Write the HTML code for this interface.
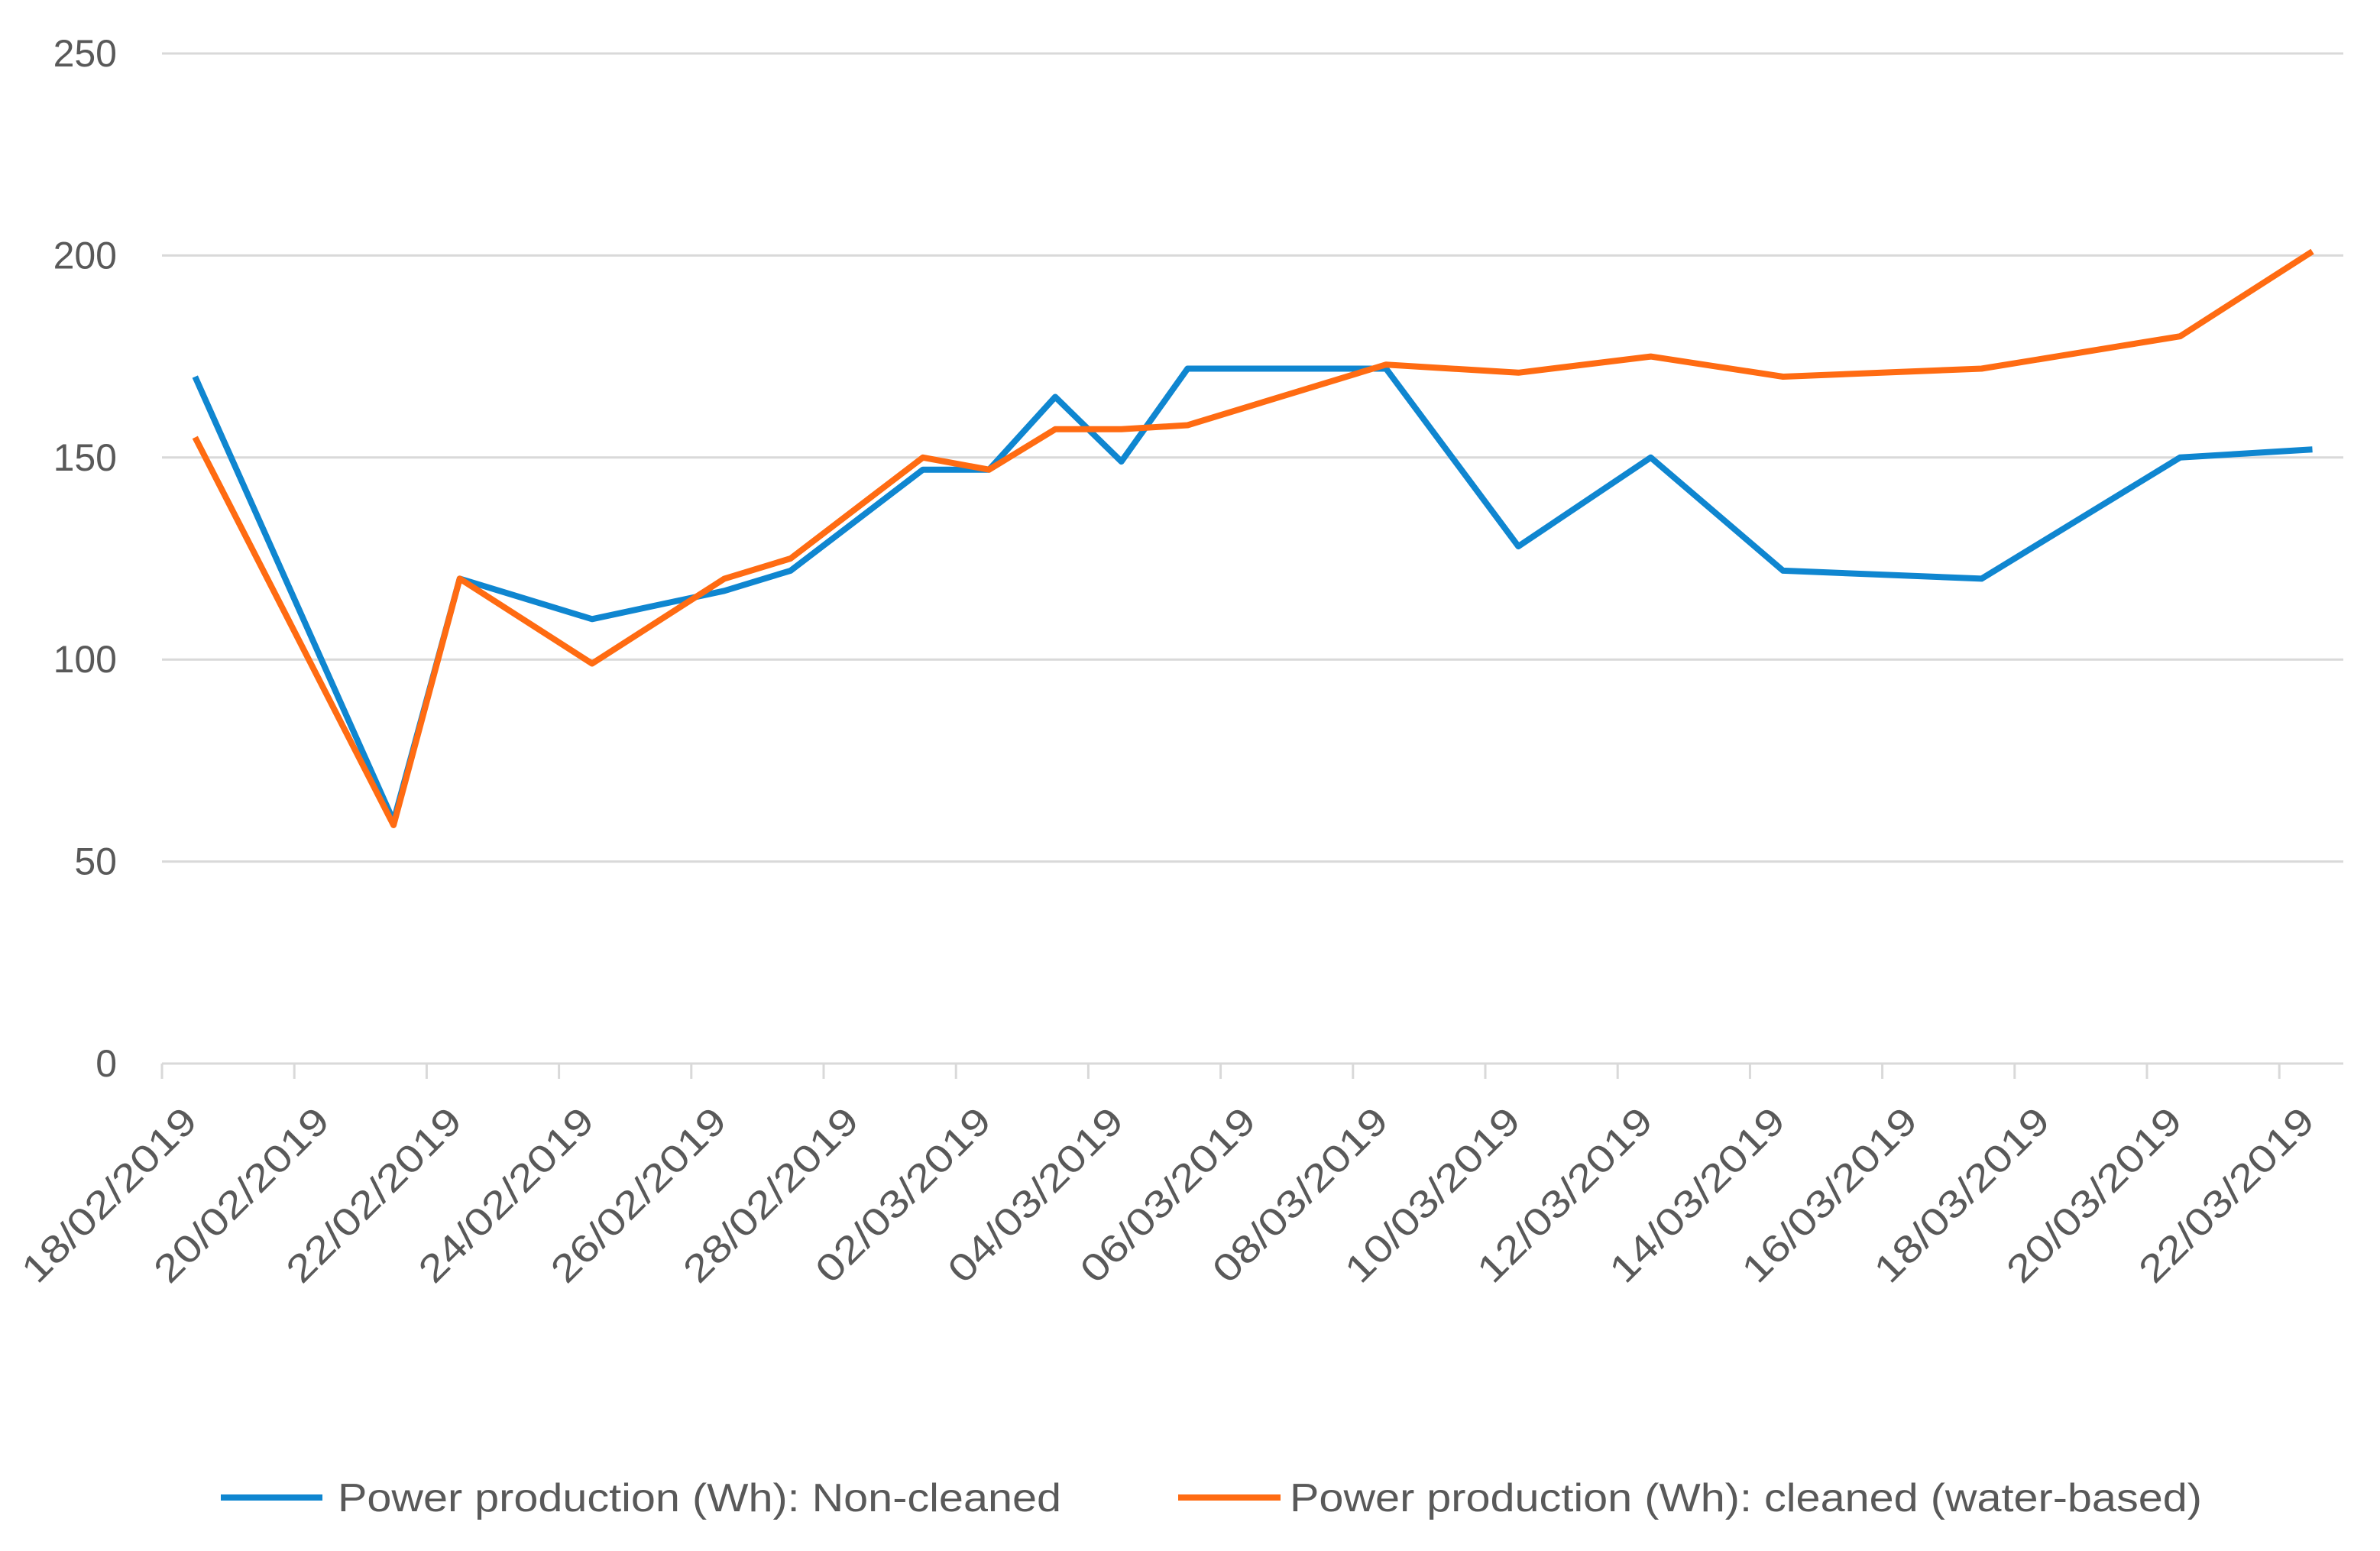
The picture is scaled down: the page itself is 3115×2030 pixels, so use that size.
<!DOCTYPE html>
<html><head><meta charset="utf-8"><style>
html,body{margin:0;padding:0;background:#fff;}
svg{display:block;font-family:"Liberation Sans",sans-serif;}
</style></head><body>
<svg id="chart" width="3115" height="2030" viewBox="0 0 3115 2030">
<g id="grid"></g>
<g id="yticks"></g>
<g id="xaxis"></g>
<g id="series"></g>
<g>
  <line x1="289" y1="1960" x2="422" y2="1960" stroke="#0f86d0" stroke-width="8"/>
  <text x="442" y="1978" font-size="52" fill="#595959" textLength="947" lengthAdjust="spacingAndGlyphs">Power production (Wh): Non-cleaned</text>
  <line x1="1542" y1="1960" x2="1676" y2="1960" stroke="#ff6b12" stroke-width="8"/>
  <text x="1688" y="1978" font-size="52" fill="#595959" textLength="1194" lengthAdjust="spacingAndGlyphs">Power production (Wh): cleaned (water-based)</text>
</g>
</svg>
<script>
const yTicks = [0, 50, 100, 150, 200, 250];
const xTickLabels = ["18/02/2019","20/02/2019","22/02/2019","24/02/2019","26/02/2019","28/02/2019","02/03/2019","04/03/2019","06/03/2019","08/03/2019","10/03/2019","12/03/2019","14/03/2019","16/03/2019","18/03/2019","20/03/2019","22/03/2019"];
const dayIndex = [0,3,4,6,8,9,11,12,13,14,15,18,20,22,24,27,30,32];
const nonCleaned = [170,60,120,110,117,122,147,147,165,149,172,172,128,150,122,120,150,152];
const cleaned = [155,59,120,99,120,125,150,147,157,157,158,173,171,175,170,172,180,201];

const NS = "http://www.w3.org/2000/svg";
const X0 = 212, X1 = 3067, DW = 86.6, Y0 = 1392, YMAX = 250, YTOP = 70;
function xDay(d){ return X0 + d * DW; }
function yVal(v){ return Y0 - (v / YMAX) * (Y0 - YTOP); }
function mk(tag, attrs, parent){
  const el = document.createElementNS(NS, tag);
  for (const k in attrs) el.setAttribute(k, attrs[k]);
  parent.appendChild(el);
  return el;
}
const grid = document.getElementById('grid');
const yt = document.getElementById('yticks');
yTicks.forEach(v => {
  const y = yVal(v);
  const ln = mk('line', {x1:X0, x2:X1, y1:y, y2:y, stroke:'#d9d9d9', 'stroke-width':3}, grid);
  
  
  const t = mk('text', {x:153, y:y + 17, 'text-anchor':'end', 'font-size':50, fill:'#595959'}, yt);
  t.textContent = v;
  
  
});
const xa = document.getElementById('xaxis');
xTickLabels.forEach((lab, i) => {
  const x = xDay(i * 2);
  const tk = mk('line', {x1:x, x2:x, y1:Y0, y2:Y0 + 20, stroke:'#d9d9d9', 'stroke-width':3}, xa);
  
  
  const ax = x + 49, ay = 1470;
  const t = mk('text', {x:ax, y:ay, 'text-anchor':'end', 'font-size':50, fill:'#595959', transform:'rotate(-45 ' + ax + ' ' + ay + ')', textLength:300, lengthAdjust:'spacingAndGlyphs'}, xa);
  t.textContent = lab;
  
  
});
const sg = document.getElementById('series');
function drawSeries(vals, color, name){
  const pts = vals.map((v, i) => xDay(dayIndex[i] + 0.5).toFixed(1) + ',' + yVal(v).toFixed(1)).join(' ');
  const pl = mk('polyline', {points:pts, fill:'none', stroke:color, 'stroke-width':8, 'stroke-linejoin':'round'}, sg);
  
  
}
drawSeries(nonCleaned, '#0f86d0', 'line-non-cleaned');
drawSeries(cleaned, '#ff6b12', 'line-cleaned');
</script>
</body></html>
